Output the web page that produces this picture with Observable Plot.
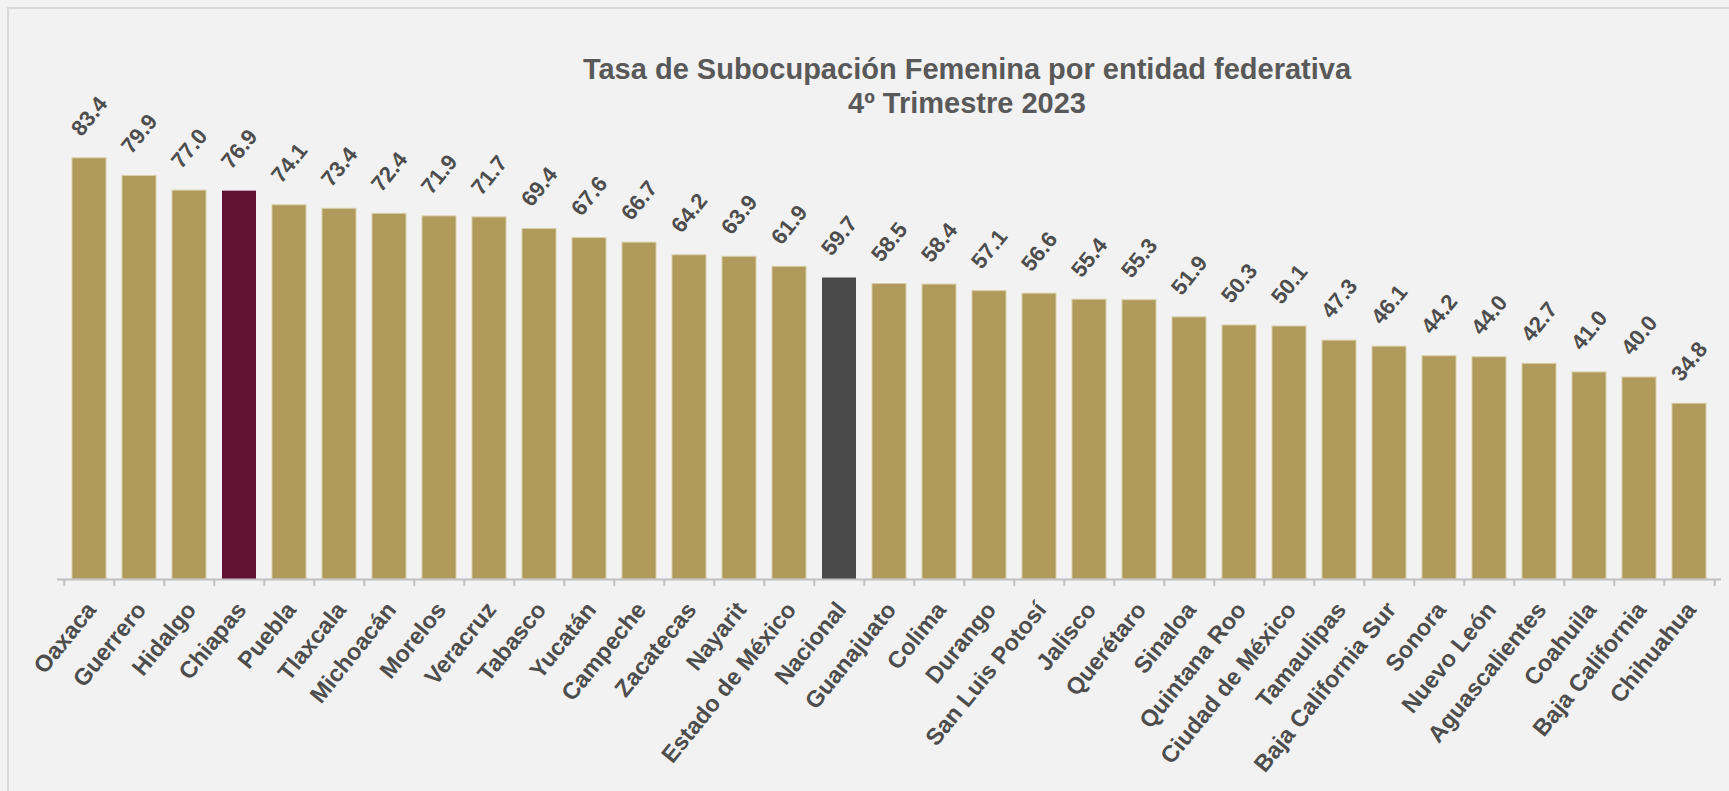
<!DOCTYPE html>
<html>
<head>
<meta charset="utf-8">
<script src="https://cdn.jsdelivr.net/npm/d3@7"></script>
<script src="https://cdn.jsdelivr.net/npm/@observablehq/plot@0.6"></script>
<style>
  html, body { margin: 0; padding: 0; background: #f2f2f2; width: 1729px; height: 791px; overflow: hidden; }
  body { font-family: "Liberation Sans", Arial, sans-serif; }
  #wrap { position: relative; width: 1729px; height: 791px; }
  #frame { position: absolute; left: 7px; top: 7px; width: 1730px; height: 800px;
           border-left: 2px solid #d9d9d9; border-top: 2px solid #d9d9d9; box-sizing: border-box; }
  #title { position: absolute; left: 467px; width: 1000px; top: 52px; text-align: center;
           font-size: 29px; line-height: 34px; font-weight: bold; color: #595959; }
  #chart { position: absolute; left: 0; top: 0; }
</style>
</head>
<body>
<div id="wrap">
  <div id="frame"></div>
  <div id="chart"></div>
  <div id="title">Tasa de Subocupación Femenina por entidad federativa<br>4º Trimestre 2023</div>
</div>
<script>
// Data
const entidades = ["Oaxaca","Guerrero","Hidalgo","Chiapas","Puebla","Tlaxcala","Michoacán","Morelos","Veracruz","Tabasco","Yucatán","Campeche","Zacatecas","Nayarit","Estado de México","Nacional","Guanajuato","Colima","Durango","San Luis Potosí","Jalisco","Querétaro","Sinaloa","Quintana Roo","Ciudad de México","Tamaulipas","Baja California Sur","Sonora","Nuevo León","Aguascalientes","Coahuila","Baja California","Chihuahua"];
const tasas = [83.4,79.9,77.0,76.9,74.1,73.4,72.4,71.9,71.7,69.4,67.6,66.7,64.2,63.9,61.9,59.7,58.5,58.4,57.1,56.6,55.4,55.3,51.9,50.3,50.1,47.3,46.1,44.2,44.0,42.7,41.0,40.0,34.8];

const data = entidades.map((name, i) => ({name, value: tasas[i]}));

const GOLD = "#af995b";
const highlight = {"Chiapas": "#611232", "Nacional": "#4a4a4a"};
const fillOf = d => highlight[d.name] || GOLD;
const strokeOf = d => highlight[d.name] ? "none" : "#d8cea6";

const W = 1729, H = 791, ML = 57, MR = 8, MT = 74, MB = 212;
const step = (W - ML - MR) / entidades.length;
const fmt = d3.format(".1f");
const labelColor = "#4d4d4d";
const font = "'Liberation Sans', Arial, sans-serif";

const chart = Plot.plot({
  width: W, height: H,
  marginLeft: ML, marginRight: MR, marginTop: MT, marginBottom: MB,
  style: {background: "transparent", fontFamily: font, overflow: "visible"},
  x: {domain: entidades, paddingInner: 0.33, paddingOuter: 0.165, axis: null},
  y: {domain: [0, 100], axis: null},
  color: {type: "identity"},
  marks: [
    Plot.barY(data, {x: "name", y: "value", fill: fillOf, stroke: strokeOf, strokeWidth: 1}),
    Plot.ruleY([0], {stroke: "#c0c0c0", strokeWidth: 2}),
    Plot.ruleX(data, {x: "name", y1: () => 0, y2: () => 0, insetBottom: -7, dx: -step / 2, stroke: "#c0c0c0", strokeWidth: 2}),
    Plot.ruleX(data.slice(-1), {x: "name", y1: () => 0, y2: () => 0, insetBottom: -7, dx: step / 2, stroke: "#c0c0c0", strokeWidth: 2}),
    Plot.text(data, {x: "name", y: "value", text: d => fmt(d.value), rotate: -51, dy: -42,
      lineAnchor: "middle", fontSize: 22, fontWeight: "bold", fill: labelColor}),
    Plot.text(data, {x: "name", frameAnchor: "bottom", text: "name", rotate: -51, dy: 26, dx: 2,
      textAnchor: "end", lineAnchor: "middle", fontSize: 23.5, fontWeight: "bold", fill: labelColor})
  ]
});
document.getElementById("chart").appendChild(chart);
</script>
</body>
</html>
